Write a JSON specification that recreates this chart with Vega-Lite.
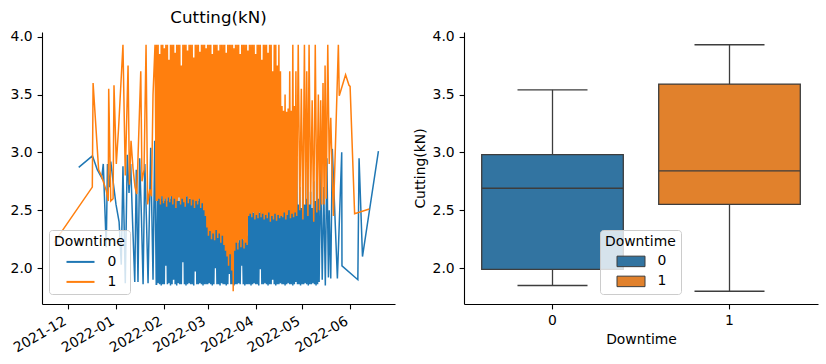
{
"$schema": "https://vega.github.io/schema/vega-lite/v6.json",
"background": "white",
"padding": {"left": 10, "top": 10, "right": 8, "bottom": 6},
"bounds": "flush",
"spacing": 69,
"config": {
  "font": "DejaVu Sans",
  "view": {"stroke": null},
  "axis": {"domainColor": "black", "tickColor": "black", "labelColor": "black", "titleColor": "black", "labelFontSize": 13.9, "titleFontSize": 13.9, "titleFontWeight": "normal", "tickSize": 4.9, "labelPadding": 4.9, "titlePadding": 5, "grid": false, "domainWidth": 1.1, "tickWidth": 1.1, "labelFont": "DejaVu Sans", "titleFont": "DejaVu Sans"},
  "legend": {"orient": "none", "titleFontSize": 13.9, "labelFontSize": 13.9, "titleFontWeight": "normal", "titleColor": "black", "labelColor": "black", "titleFont": "DejaVu Sans", "labelFont": "DejaVu Sans", "fillColor": "rgba(255,255,255,0.8)", "strokeColor": "#cccccc", "cornerRadius": 3, "padding": 5, "titlePadding": 5, "rowPadding": 5, "symbolOffset": 18.5, "labelOffset": 19, "symbolSize": 196},
  "title": {"fontSize": 16.7, "fontWeight": "normal", "color": "black", "font": "DejaVu Sans"}
},
"resolve": {"scale": {"color": "independent", "x": "independent", "y": "independent"}, "legend": {"color": "independent"}},
"hconcat": [
{
  "width": 353, "height": 272,
  "title": {"text": "Cutting(kN)", "baseline": "alphabetic", "offset": -10.4, "frame": "group"},
  "data": {"format": {"parse": {"t": "date:'%Y%m%d%H'"}}, "values": [
{"t":"2021120717","v":2.87,"d":0},{"t":"2021121614","v":2.97,"d":0},{"t":"2021121917","v":2.85,"d":0},{"t":"2021122214","v":2.78,"d":0},{"t":"2021122314","v":2.90,"d":0},{"t":"2021122512","v":2.18,"d":0},{"t":"2021122607","v":2.90,"d":0},{"t":"2021122712","v":2.70,"d":0},{"t":"2021122810","v":2.92,"d":0},{"t":"2021122922","v":2.75,"d":0},{"t":"2021123119","v":2.55,"d":0},{"t":"2022010219","v":2.40,"d":0},{"t":"2022010405","v":2.03,"d":0},{"t":"2022010507","v":2.88,"d":0},{"t":"2022010619","v":1.87,"d":0},{"t":"2022010802","v":2.98,"d":0},{"t":"2022010905","v":2.65,"d":0},{"t":"2022011007","v":2.90,"d":0},{"t":"2022011112","v":2.40,"d":0},{"t":"2022011222","v":1.88,"d":0},{"t":"2022011322","v":2.85,"d":0},{"t":"2022011500","v":1.88,"d":0},{"t":"2022011602","v":2.95,"d":0},{"t":"2022011705","v":2.45,"d":0},{"t":"2022011807","v":1.86,"d":0},{"t":"2022011910","v":2.90,"d":0},{"t":"2022012012","v":2.40,"d":0},{"t":"2022012112","v":1.87,"d":0},{"t":"2022012305","v":3.04,"d":0},{"t":"2022012417","v":1.90,"d":0},{"t":"2022012519","v":3.10,"d":0},{"t":"2022012619","v":1.86,"d":0},
{"t":"2022012700","v":1.86,"d":0},{"t":"2022012712","v":2.62,"d":0},{"t":"2022012800","v":1.87,"d":0},{"t":"2022012812","v":2.85,"d":0},{"t":"2022012900","v":1.86,"d":0},{"t":"2022012912","v":2.60,"d":0},{"t":"2022013000","v":1.85,"d":0},{"t":"2022013012","v":2.75,"d":0},{"t":"2022013100","v":1.86,"d":0},{"t":"2022013112","v":2.58,"d":0},
{"t":"2022020100","v":1.86,"d":0},{"t":"2022020112","v":2.65,"d":0},{"t":"2022020200","v":2.02,"d":0},{"t":"2022020212","v":2.58,"d":0},{"t":"2022020300","v":1.86,"d":0},{"t":"2022020312","v":2.80,"d":0},{"t":"2022020400","v":1.87,"d":0},{"t":"2022020412","v":2.60,"d":0},{"t":"2022020500","v":1.85,"d":0},{"t":"2022020512","v":2.70,"d":0},{"t":"2022020600","v":1.86,"d":0},{"t":"2022020612","v":2.62,"d":0},{"t":"2022020700","v":1.90,"d":0},{"t":"2022020712","v":2.95,"d":0},{"t":"2022020800","v":1.86,"d":0},{"t":"2022020812","v":2.60,"d":0},{"t":"2022020900","v":1.85,"d":0},{"t":"2022020912","v":2.66,"d":0},{"t":"2022021000","v":1.87,"d":0},{"t":"2022021012","v":2.58,"d":0},{"t":"2022021100","v":1.86,"d":0},{"t":"2022021112","v":2.75,"d":0},{"t":"2022021200","v":1.86,"d":0},{"t":"2022021212","v":2.62,"d":0},{"t":"2022021300","v":2.05,"d":0},{"t":"2022021312","v":2.60,"d":0},{"t":"2022021400","v":1.86,"d":0},{"t":"2022021412","v":2.85,"d":0},{"t":"2022021500","v":1.85,"d":0},{"t":"2022021512","v":2.62,"d":0},{"t":"2022021600","v":1.86,"d":0},{"t":"2022021612","v":2.70,"d":0},{"t":"2022021700","v":1.87,"d":0},{"t":"2022021712","v":2.60,"d":0},{"t":"2022021800","v":1.86,"d":0},{"t":"2022021812","v":2.66,"d":0},{"t":"2022021900","v":1.86,"d":0},{"t":"2022021912","v":2.90,"d":0},{"t":"2022022000","v":1.85,"d":0},{"t":"2022022012","v":2.60,"d":0},{"t":"2022022100","v":1.97,"d":0},{"t":"2022022112","v":2.64,"d":0},{"t":"2022022200","v":1.86,"d":0},{"t":"2022022212","v":2.58,"d":0},{"t":"2022022300","v":1.86,"d":0},{"t":"2022022312","v":2.72,"d":0},{"t":"2022022400","v":1.87,"d":0},{"t":"2022022412","v":2.60,"d":0},{"t":"2022022500","v":1.86,"d":0},{"t":"2022022512","v":2.65,"d":0},{"t":"2022022600","v":1.85,"d":0},{"t":"2022022612","v":2.80,"d":0},{"t":"2022022700","v":1.86,"d":0},{"t":"2022022712","v":2.58,"d":0},{"t":"2022022800","v":1.86,"d":0},{"t":"2022022812","v":2.62,"d":0},
{"t":"2022030100","v":1.86,"d":0},{"t":"2022030112","v":2.45,"d":0},{"t":"2022030200","v":1.87,"d":0},{"t":"2022030212","v":2.38,"d":0},{"t":"2022030300","v":1.86,"d":0},{"t":"2022030312","v":2.50,"d":0},{"t":"2022030400","v":1.85,"d":0},{"t":"2022030412","v":2.35,"d":0},{"t":"2022030500","v":1.86,"d":0},{"t":"2022030512","v":2.42,"d":0},{"t":"2022030600","v":2.00,"d":0},{"t":"2022030612","v":2.36,"d":0},{"t":"2022030700","v":1.86,"d":0},{"t":"2022030712","v":2.55,"d":0},{"t":"2022030800","v":1.86,"d":0},{"t":"2022030812","v":2.34,"d":0},{"t":"2022030900","v":1.85,"d":0},{"t":"2022030912","v":2.40,"d":0},{"t":"2022031000","v":1.87,"d":0},{"t":"2022031012","v":2.33,"d":0},{"t":"2022031100","v":1.86,"d":0},{"t":"2022031112","v":2.45,"d":0},{"t":"2022031200","v":1.86,"d":0},{"t":"2022031212","v":2.30,"d":0},{"t":"2022031300","v":1.85,"d":0},{"t":"2022031312","v":2.25,"d":0},{"t":"2022031400","v":1.86,"d":0},{"t":"2022031412","v":2.20,"d":0},{"t":"2022031500","v":1.95,"d":0},{"t":"2022031512","v":2.28,"d":0},{"t":"2022031600","v":1.86,"d":0},{"t":"2022031612","v":2.15,"d":0},{"t":"2022031700","v":1.86,"d":0},{"t":"2022031712","v":2.20,"d":0},{"t":"2022031800","v":1.85,"d":0},{"t":"2022031812","v":2.25,"d":0},{"t":"2022031900","v":1.86,"d":0},{"t":"2022031912","v":2.30,"d":0},{"t":"2022032000","v":1.86,"d":0},{"t":"2022032012","v":2.22,"d":0},{"t":"2022032100","v":1.87,"d":0},{"t":"2022032112","v":2.35,"d":0},{"t":"2022032200","v":1.86,"d":0},{"t":"2022032212","v":2.26,"d":0},{"t":"2022032300","v":2.02,"d":0},{"t":"2022032312","v":2.30,"d":0},{"t":"2022032400","v":1.86,"d":0},{"t":"2022032412","v":2.24,"d":0},{"t":"2022032500","v":1.85,"d":0},{"t":"2022032512","v":2.40,"d":0},{"t":"2022032600","v":1.86,"d":0},{"t":"2022032612","v":2.28,"d":0},{"t":"2022032700","v":1.86,"d":0},{"t":"2022032712","v":2.50,"d":0},{"t":"2022032800","v":1.86,"d":0},{"t":"2022032812","v":2.52,"d":0},{"t":"2022032900","v":1.85,"d":0},{"t":"2022032912","v":2.60,"d":0},{"t":"2022033000","v":1.86,"d":0},{"t":"2022033012","v":2.48,"d":0},{"t":"2022033100","v":1.87,"d":0},{"t":"2022033112","v":2.55,"d":0},
{"t":"2022040100","v":1.86,"d":0},{"t":"2022040112","v":2.50,"d":0},{"t":"2022040200","v":1.86,"d":0},{"t":"2022040212","v":2.62,"d":0},{"t":"2022040300","v":1.85,"d":0},{"t":"2022040312","v":2.48,"d":0},{"t":"2022040400","v":1.99,"d":0},{"t":"2022040412","v":2.55,"d":0},{"t":"2022040500","v":1.86,"d":0},{"t":"2022040512","v":2.50,"d":0},{"t":"2022040600","v":1.86,"d":0},{"t":"2022040612","v":2.70,"d":0},{"t":"2022040700","v":1.87,"d":0},{"t":"2022040712","v":2.52,"d":0},{"t":"2022040800","v":1.86,"d":0},{"t":"2022040812","v":2.48,"d":0},{"t":"2022040900","v":1.85,"d":0},{"t":"2022040912","v":2.58,"d":0},{"t":"2022041000","v":1.86,"d":0},{"t":"2022041012","v":2.50,"d":0},{"t":"2022041100","v":1.86,"d":0},{"t":"2022041112","v":2.65,"d":0},{"t":"2022041200","v":1.90,"d":0},{"t":"2022041212","v":2.49,"d":0},{"t":"2022041300","v":1.86,"d":0},{"t":"2022041312","v":2.55,"d":0},{"t":"2022041400","v":1.85,"d":0},{"t":"2022041412","v":2.52,"d":0},{"t":"2022041500","v":1.86,"d":0},{"t":"2022041512","v":2.80,"d":0},{"t":"2022041600","v":1.86,"d":0},{"t":"2022041612","v":2.50,"d":0},{"t":"2022041700","v":1.87,"d":0},{"t":"2022041712","v":3.10,"d":0},{"t":"2022041800","v":1.86,"d":0},{"t":"2022041812","v":2.55,"d":0},{"t":"2022041900","v":1.86,"d":0},{"t":"2022041912","v":2.62,"d":0},{"t":"2022042000","v":1.85,"d":0},{"t":"2022042012","v":2.50,"d":0},{"t":"2022042100","v":1.86,"d":0},{"t":"2022042112","v":2.75,"d":0},{"t":"2022042200","v":1.87,"d":0},{"t":"2022042212","v":2.52,"d":0},{"t":"2022042300","v":1.86,"d":0},{"t":"2022042312","v":2.60,"d":0},{"t":"2022042400","v":1.86,"d":0},{"t":"2022042412","v":2.85,"d":0},{"t":"2022042500","v":1.85,"d":0},{"t":"2022042512","v":2.55,"d":0},{"t":"2022042600","v":1.86,"d":0},{"t":"2022042612","v":2.64,"d":0},{"t":"2022042700","v":1.88,"d":0},{"t":"2022042712","v":2.95,"d":0},{"t":"2022042800","v":1.86,"d":0},{"t":"2022042812","v":2.55,"d":0},{"t":"2022042900","v":1.86,"d":0},{"t":"2022042912","v":2.70,"d":0},{"t":"2022043000","v":1.85,"d":0},{"t":"2022043012","v":2.52,"d":0},
{"t":"2022050100","v":1.86,"d":0},{"t":"2022050112","v":2.80,"d":0},{"t":"2022050200","v":1.86,"d":0},{"t":"2022050212","v":2.55,"d":0},{"t":"2022050300","v":1.87,"d":0},{"t":"2022050312","v":2.60,"d":0},{"t":"2022050400","v":1.86,"d":0},{"t":"2022050412","v":2.90,"d":0},{"t":"2022050500","v":1.85,"d":0},{"t":"2022050512","v":2.55,"d":0},{"t":"2022050600","v":1.86,"d":0},{"t":"2022050612","v":2.66,"d":0},{"t":"2022050700","v":1.86,"d":0},{"t":"2022050712","v":2.52,"d":0},{"t":"2022050800","v":1.87,"d":0},{"t":"2022050812","v":2.75,"d":0},{"t":"2022050900","v":1.86,"d":0},{"t":"2022050912","v":2.58,"d":0},{"t":"2022051000","v":1.85,"d":0},{"t":"2022051012","v":3.00,"d":0},{"t":"2022051100","v":1.86,"d":0},{"t":"2022051112","v":2.60,"d":0},
{"t":"2022051200","v":1.88,"d":0},{"t":"2022051300","v":2.85,"d":0},{"t":"2022051400","v":1.90,"d":0},{"t":"2022051500","v":2.70,"d":0},{"t":"2022051600","v":1.85,"d":0},{"t":"2022051700","v":2.95,"d":0},{"t":"2022051800","v":1.92,"d":0},{"t":"2022051812","v":2.50,"d":0},{"t":"2022051912","v":1.91,"d":0},{"t":"2022052012","v":3.03,"d":0},{"t":"2022052319","v":1.91,"d":0},{"t":"2022052614","v":3.00,"d":0},{"t":"2022052618","v":2.02,"d":0},{"t":"2022060600","v":1.90,"d":0},{"t":"2022060619","v":2.95,"d":0},{"t":"2022060900","v":2.10,"d":0},{"t":"2022061907","v":3.01,"d":0},
{"t":"2021112119","v":2.22,"d":1},{"t":"2021121612","v":2.70,"d":1},{"t":"2021121700","v":3.60,"d":1},{"t":"2021122014","v":2.85,"d":1},{"t":"2021122207","v":2.80,"d":1},{"t":"2021122512","v":2.67,"d":1},{"t":"2021122619","v":2.58,"d":1},{"t":"2021122702","v":3.55,"d":1},{"t":"2021122810","v":2.58,"d":1},{"t":"2021122922","v":2.60,"d":1},{"t":"2021123012","v":3.58,"d":1},{"t":"2022010100","v":2.90,"d":1},{"t":"2022010210","v":3.20,"d":1},{"t":"2022010507","v":3.93,"d":1},{"t":"2022010619","v":2.80,"d":1},{"t":"2022010814","v":3.75,"d":1},{"t":"2022010912","v":2.72,"d":1},{"t":"2022011012","v":3.10,"d":1},{"t":"2022011119","v":2.86,"d":1},{"t":"2022011302","v":2.70,"d":1},{"t":"2022011405","v":2.64,"d":1},{"t":"2022011500","v":2.95,"d":1},{"t":"2022011619","v":3.70,"d":1},{"t":"2022011714","v":2.75,"d":1},{"t":"2022011822","v":2.85,"d":1},{"t":"2022012005","v":3.93,"d":1},{"t":"2022012105","v":2.55,"d":1},{"t":"2022012214","v":2.68,"d":1},{"t":"2022012317","v":2.62,"d":1},{"t":"2022012417","v":3.50,"d":1},{"t":"2022012600","v":3.93,"d":1},{"t":"2022012619","v":2.58,"d":1},
{"t":"2022012700","v":3.93,"d":1},{"t":"2022012712","v":2.58,"d":1},{"t":"2022012800","v":3.93,"d":1},{"t":"2022012812","v":2.60,"d":1},{"t":"2022012900","v":3.85,"d":1},{"t":"2022012912","v":2.55,"d":1},{"t":"2022013000","v":3.93,"d":1},{"t":"2022013012","v":2.62,"d":1},{"t":"2022013100","v":3.93,"d":1},{"t":"2022013112","v":2.56,"d":1},
{"t":"2022020100","v":3.90,"d":1},{"t":"2022020112","v":2.60,"d":1},{"t":"2022020200","v":3.93,"d":1},{"t":"2022020212","v":2.53,"d":1},{"t":"2022020300","v":3.93,"d":1},{"t":"2022020312","v":2.61,"d":1},{"t":"2022020400","v":3.80,"d":1},{"t":"2022020412","v":2.57,"d":1},{"t":"2022020500","v":3.93,"d":1},{"t":"2022020512","v":2.62,"d":1},{"t":"2022020600","v":3.93,"d":1},{"t":"2022020612","v":2.55,"d":1},{"t":"2022020700","v":3.93,"d":1},{"t":"2022020712","v":2.60,"d":1},{"t":"2022020800","v":3.86,"d":1},{"t":"2022020812","v":2.52,"d":1},{"t":"2022020900","v":3.93,"d":1},{"t":"2022020912","v":2.58,"d":1},{"t":"2022021000","v":3.93,"d":1},{"t":"2022021012","v":2.61,"d":1},{"t":"2022021100","v":3.93,"d":1},{"t":"2022021112","v":2.55,"d":1},{"t":"2022021200","v":3.75,"d":1},{"t":"2022021212","v":2.60,"d":1},{"t":"2022021300","v":3.93,"d":1},{"t":"2022021312","v":2.57,"d":1},{"t":"2022021400","v":3.93,"d":1},{"t":"2022021412","v":2.53,"d":1},{"t":"2022021500","v":3.93,"d":1},{"t":"2022021512","v":2.62,"d":1},{"t":"2022021600","v":3.88,"d":1},{"t":"2022021612","v":2.56,"d":1},{"t":"2022021700","v":3.93,"d":1},{"t":"2022021712","v":2.60,"d":1},{"t":"2022021800","v":3.93,"d":1},{"t":"2022021812","v":2.54,"d":1},{"t":"2022021900","v":3.93,"d":1},{"t":"2022021912","v":2.59,"d":1},{"t":"2022022000","v":3.82,"d":1},{"t":"2022022012","v":2.52,"d":1},{"t":"2022022100","v":3.93,"d":1},{"t":"2022022112","v":2.58,"d":1},{"t":"2022022200","v":3.93,"d":1},{"t":"2022022212","v":2.55,"d":1},{"t":"2022022300","v":3.93,"d":1},{"t":"2022022312","v":2.60,"d":1},{"t":"2022022400","v":3.87,"d":1},{"t":"2022022412","v":2.52,"d":1},{"t":"2022022500","v":3.93,"d":1},{"t":"2022022512","v":2.56,"d":1},{"t":"2022022600","v":3.93,"d":1},{"t":"2022022612","v":2.50,"d":1},{"t":"2022022700","v":3.93,"d":1},{"t":"2022022712","v":2.45,"d":1},{"t":"2022022800","v":3.90,"d":1},{"t":"2022022812","v":2.35,"d":1},
{"t":"2022030100","v":3.93,"d":1},{"t":"2022030112","v":2.28,"d":1},{"t":"2022030200","v":3.93,"d":1},{"t":"2022030212","v":2.32,"d":1},{"t":"2022030300","v":3.93,"d":1},{"t":"2022030312","v":2.25,"d":1},{"t":"2022030400","v":3.85,"d":1},{"t":"2022030412","v":2.30,"d":1},{"t":"2022030500","v":3.93,"d":1},{"t":"2022030512","v":2.24,"d":1},{"t":"2022030600","v":3.93,"d":1},{"t":"2022030612","v":2.33,"d":1},{"t":"2022030700","v":3.93,"d":1},{"t":"2022030712","v":2.26,"d":1},{"t":"2022030800","v":3.88,"d":1},{"t":"2022030812","v":2.30,"d":1},{"t":"2022030900","v":3.93,"d":1},{"t":"2022030912","v":2.22,"d":1},{"t":"2022031000","v":3.93,"d":1},{"t":"2022031012","v":2.28,"d":1},{"t":"2022031100","v":3.93,"d":1},{"t":"2022031112","v":2.20,"d":1},{"t":"2022031200","v":3.93,"d":1},{"t":"2022031212","v":2.15,"d":1},{"t":"2022031300","v":3.86,"d":1},{"t":"2022031312","v":2.10,"d":1},{"t":"2022031400","v":3.93,"d":1},{"t":"2022031412","v":2.02,"d":1},{"t":"2022031500","v":3.93,"d":1},{"t":"2022031512","v":2.12,"d":1},{"t":"2022031600","v":3.93,"d":1},{"t":"2022031612","v":1.98,"d":1},{"t":"2022031700","v":3.93,"d":1},{"t":"2022031712","v":1.80,"d":1},{"t":"2022031800","v":3.90,"d":1},{"t":"2022031812","v":2.15,"d":1},{"t":"2022031900","v":3.93,"d":1},{"t":"2022031912","v":2.22,"d":1},{"t":"2022032000","v":3.93,"d":1},{"t":"2022032012","v":2.16,"d":1},{"t":"2022032100","v":3.93,"d":1},{"t":"2022032112","v":2.24,"d":1},{"t":"2022032200","v":3.85,"d":1},{"t":"2022032212","v":2.18,"d":1},{"t":"2022032300","v":3.93,"d":1},{"t":"2022032312","v":2.25,"d":1},{"t":"2022032400","v":3.93,"d":1},{"t":"2022032412","v":2.17,"d":1},{"t":"2022032500","v":3.93,"d":1},{"t":"2022032512","v":2.22,"d":1},{"t":"2022032600","v":3.93,"d":1},{"t":"2022032612","v":2.20,"d":1},{"t":"2022032700","v":3.88,"d":1},{"t":"2022032712","v":2.45,"d":1},{"t":"2022032800","v":3.93,"d":1},{"t":"2022032812","v":2.47,"d":1},{"t":"2022032900","v":3.93,"d":1},{"t":"2022032912","v":2.44,"d":1},{"t":"2022033000","v":3.93,"d":1},{"t":"2022033012","v":2.48,"d":1},{"t":"2022033100","v":3.93,"d":1},{"t":"2022033112","v":2.42,"d":1},
{"t":"2022040100","v":3.85,"d":1},{"t":"2022040112","v":2.46,"d":1},{"t":"2022040200","v":3.93,"d":1},{"t":"2022040212","v":2.43,"d":1},{"t":"2022040300","v":3.93,"d":1},{"t":"2022040312","v":2.48,"d":1},{"t":"2022040400","v":3.93,"d":1},{"t":"2022040412","v":2.44,"d":1},{"t":"2022040500","v":3.80,"d":1},{"t":"2022040512","v":2.47,"d":1},{"t":"2022040600","v":3.93,"d":1},{"t":"2022040612","v":2.42,"d":1},{"t":"2022040700","v":3.93,"d":1},{"t":"2022040712","v":2.46,"d":1},{"t":"2022040800","v":3.93,"d":1},{"t":"2022040812","v":2.43,"d":1},{"t":"2022040900","v":3.86,"d":1},{"t":"2022040912","v":2.48,"d":1},{"t":"2022041000","v":3.93,"d":1},{"t":"2022041012","v":2.40,"d":1},{"t":"2022041100","v":3.93,"d":1},{"t":"2022041112","v":2.45,"d":1},{"t":"2022041200","v":3.70,"d":1},{"t":"2022041212","v":2.42,"d":1},{"t":"2022041300","v":3.93,"d":1},{"t":"2022041312","v":2.47,"d":1},{"t":"2022041400","v":3.93,"d":1},{"t":"2022041412","v":2.41,"d":1},{"t":"2022041500","v":3.75,"d":1},{"t":"2022041512","v":2.46,"d":1},{"t":"2022041600","v":3.93,"d":1},{"t":"2022041612","v":2.43,"d":1},{"t":"2022041700","v":3.70,"d":1},{"t":"2022041712","v":2.45,"d":1},{"t":"2022041800","v":3.40,"d":1},{"t":"2022041812","v":2.44,"d":1},{"t":"2022041900","v":3.36,"d":1},{"t":"2022041912","v":2.48,"d":1},{"t":"2022042000","v":3.50,"d":1},{"t":"2022042012","v":2.42,"d":1},{"t":"2022042100","v":3.35,"d":1},{"t":"2022042112","v":2.46,"d":1},{"t":"2022042200","v":3.38,"d":1},{"t":"2022042212","v":2.50,"d":1},{"t":"2022042300","v":3.70,"d":1},{"t":"2022042312","v":2.43,"d":1},{"t":"2022042400","v":3.36,"d":1},{"t":"2022042412","v":2.47,"d":1},{"t":"2022042500","v":3.93,"d":1},{"t":"2022042512","v":2.44,"d":1},{"t":"2022042600","v":3.40,"d":1},{"t":"2022042612","v":2.48,"d":1},
{"t":"2022042700","v":3.70,"d":1},{"t":"2022042712","v":2.45,"d":1},{"t":"2022042812","v":3.93,"d":1},{"t":"2022042912","v":2.50,"d":1},{"t":"2022043012","v":3.55,"d":1},{"t":"2022050112","v":2.42,"d":1},{"t":"2022050212","v":3.93,"d":1},{"t":"2022050306","v":2.55,"d":1},{"t":"2022050400","v":3.70,"d":1},{"t":"2022050418","v":2.45,"d":1},{"t":"2022050512","v":3.93,"d":1},{"t":"2022050612","v":2.55,"d":1},{"t":"2022050712","v":3.45,"d":1},{"t":"2022050812","v":2.40,"d":1},{"t":"2022050912","v":3.93,"d":1},{"t":"2022051012","v":2.48,"d":1},{"t":"2022051112","v":3.50,"d":1},{"t":"2022051206","v":2.50,"d":1},{"t":"2022051300","v":3.45,"d":1},{"t":"2022051318","v":2.55,"d":1},{"t":"2022051412","v":3.60,"d":1},{"t":"2022051506","v":2.55,"d":1},{"t":"2022051520","v":3.75,"d":1},{"t":"2022051614","v":2.60,"d":1},{"t":"2022051714","v":3.93,"d":1},{"t":"2022051812","v":2.90,"d":1},{"t":"2022051912","v":3.30,"d":1},{"t":"2022052105","v":2.45,"d":1},{"t":"2022052410","v":3.93,"d":1},{"t":"2022052500","v":3.49,"d":1},{"t":"2022052902","v":3.67,"d":1},{"t":"2022053107","v":3.58,"d":1},{"t":"2022060100","v":3.57,"d":1},{"t":"2022060322","v":2.47,"d":1},{"t":"2022061310","v":2.51,"d":1}
  ]},
  "mark": {"type": "line", "strokeWidth": 1.5},
  "encoding": {
    "x": {"field": "t", "type": "temporal",
      "scale": {"domain": [{"year": 2021, "month": 11, "date": 14}, {"year": 2022, "month": 6, "date": 30}]},
      "axis": {"title": null, "format": "%Y-%m", "labelAngle": -30, "labelAlign": "right", "labelBaseline": "top", "labelOffset": -7, "labelOverlap": false, "labelBound": false, "labelFlush": false,
        "values": [{"year": 2021, "month": 12, "date": 1}, {"year": 2022, "month": 1, "date": 1}, {"year": 2022, "month": 2, "date": 1}, {"year": 2022, "month": 3, "date": 1}, {"year": 2022, "month": 4, "date": 1}, {"year": 2022, "month": 5, "date": 1}, {"year": 2022, "month": 6, "date": 1}]}},
    "y": {"field": "v", "type": "quantitative", "scale": {"domain": [1.69, 4.04], "nice": false, "zero": false},
      "axis": {"title": null, "values": [2, 2.5, 3, 3.5, 4], "format": ".1f"}},
    "color": {"field": "d", "type": "nominal", "scale": {"domain": [0, 1], "range": ["#1f77b4", "#ff7f0e"]},
      "legend": {"title": "Downtime", "legendX": 7, "legendY": 198, "symbolType": "M-2,0H2", "symbolStrokeWidth": 2}}
  }
},
{
  "width": 354, "height": 272,
  "data": {"values": [
    {"Downtime": 0, "lower": 1.85, "q1": 1.99, "median": 2.69, "q3": 2.98, "upper": 3.54},
    {"Downtime": 1, "lower": 1.80, "q1": 2.55, "median": 2.84, "q3": 3.59, "upper": 3.93}
  ]},
  "encoding": {
    "x": {"field": "Downtime", "type": "nominal", "scale": {"type": "band", "paddingInner": 0, "paddingOuter": 0}, "axis": {"labelAngle": 0, "title": "Downtime"}}
  },
  "layer": [
    {"mark": {"type": "rule", "color": "#3d3d3d", "strokeWidth": 1.3},
     "encoding": {"y": {"field": "lower", "type": "quantitative", "scale": {"domain": [1.69, 4.04], "nice": false, "zero": false}, "axis": {"title": "Cutting(kN)", "values": [2, 2.5, 3, 3.5, 4], "format": ".1f"}}, "y2": {"field": "upper"}}},
    {"mark": {"type": "bar", "stroke": "#3d3d3d", "strokeWidth": 1.3, "width": {"band": 0.8}, "opacity": 1},
     "encoding": {"y": {"field": "q1", "type": "quantitative", "scale": {"domain": [1.69, 4.04], "nice": false, "zero": false}, "axis": {"title": "Cutting(kN)", "values": [2, 2.5, 3, 3.5, 4], "format": ".1f"}}, "y2": {"field": "q3"},
       "color": {"field": "Downtime", "type": "nominal", "scale": {"domain": [0, 1], "range": ["#3274a1", "#e1812c"]},
         "legend": {"title": "Downtime", "legendX": 136, "legendY": 198, "symbolType": "M-2,-0.75H2V0.75H-2Z", "symbolStrokeColor": "#3d3d3d", "symbolStrokeWidth": 1}}}},
    {"mark": {"type": "tick", "color": "#3d3d3d", "thickness": 1.3, "size": 141, "opacity": 1},
     "encoding": {"y": {"field": "median", "type": "quantitative", "scale": {"domain": [1.69, 4.04], "nice": false, "zero": false}, "axis": {"title": "Cutting(kN)", "values": [2, 2.5, 3, 3.5, 4], "format": ".1f"}}}},
    {"mark": {"type": "tick", "color": "#3d3d3d", "thickness": 1.3, "size": 70, "opacity": 1},
     "encoding": {"y": {"field": "lower", "type": "quantitative", "scale": {"domain": [1.69, 4.04], "nice": false, "zero": false}, "axis": {"title": "Cutting(kN)", "values": [2, 2.5, 3, 3.5, 4], "format": ".1f"}}}},
    {"mark": {"type": "tick", "color": "#3d3d3d", "thickness": 1.3, "size": 70, "opacity": 1},
     "encoding": {"y": {"field": "upper", "type": "quantitative", "scale": {"domain": [1.69, 4.04], "nice": false, "zero": false}, "axis": {"title": "Cutting(kN)", "values": [2, 2.5, 3, 3.5, 4], "format": ".1f"}}}}
  ]
}
]
}
